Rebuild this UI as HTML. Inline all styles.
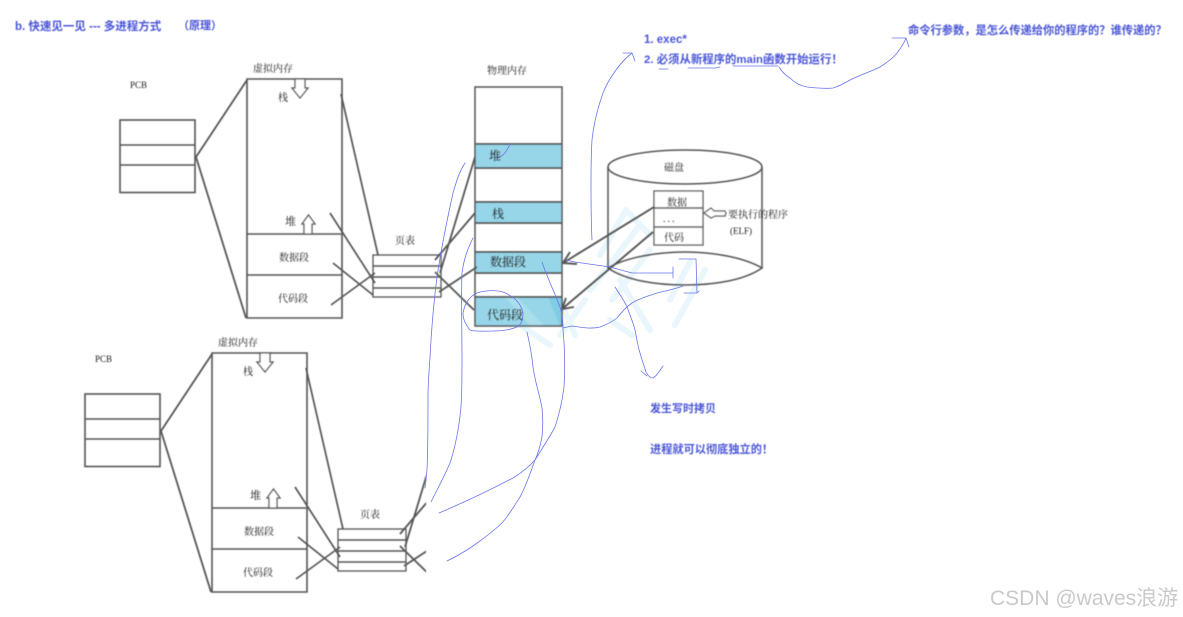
<!DOCTYPE html>
<html><head><meta charset="utf-8">
<style>
html,body{margin:0;padding:0;background:#fff;width:1183px;height:617px;overflow:hidden}
svg{display:block;position:absolute;left:0;top:0}
.s{font-family:"Liberation Serif","Noto Serif CJK SC",serif;fill:#222}
.b{font-family:"Liberation Sans","Noto Sans CJK SC",sans-serif;font-weight:700;fill:#4a55d6}
</style></head>
<body>
<svg width="1183" height="617" viewBox="0 0 1183 617" xmlns="http://www.w3.org/2000/svg">
<defs>
<filter id="f" x="-5%" y="-5%" width="110%" height="110%"><feGaussianBlur stdDeviation="0.5"/></filter>
<clipPath id="cl"><rect x="0" y="330" width="426" height="287"/></clipPath>
</defs>

<!-- faint watermark -->
<g fill="none" stroke="#e9f7fc" stroke-width="6" stroke-linecap="round">
<path d="M625 212L600 255M640 225L590 290M650 250L612 300M620 280L650 330M585 300L560 335M690 262L670 300M705 270L675 325M520 325L550 345M560 300L575 335M610 320L632 335M626 210L650 235"/>
</g>

<g filter="url(#f)">
<!-- fills -->
<rect x="475" y="144" width="87" height="24" fill="#96d6e8"/>
<rect x="475" y="202" width="87" height="21" fill="#96d6e8"/>
<rect x="475" y="252" width="87" height="21" fill="#96d6e8"/>
<rect x="475" y="297" width="87" height="29" fill="#96d6e8"/>
<path d="M505 297L530 326H544L517 297Z" fill="#a9deec"/>
<path d="M548 297L560 326H562V297Z" fill="#7fcde4"/>

<g fill="none" stroke="#555" stroke-width="1.6">
<!-- top group -->
<rect x="120" y="120" width="75" height="72.500"/>
<path d="M120 145H195M120 165H195"/>
<path d="M196 157L247 80M196 157L246 318" stroke-width="1.800"/>
<path d="M247 79H342V318H247ZM247 234H341M247 275H342"/>
<rect x="373" y="255" width="68" height="42" stroke-width="1.300"/>
<path d="M373 266H441M373 277H441M373 288H441"/>
<path d="M341 94L378 255M330 213L375 283M333 263L373 295M331 305L375 273" stroke-width="1.700"/>
<path d="M435 260L475 213M440 273L475 157M439 292L477 267M435 272L474 310" stroke-width="1.800"/>

<!-- physical -->
<path d="M475 87H562V326H475Z" stroke-width="1.500"/>
<path d="M475 144H562M475 168H562M475 202H562M475 223H562M475 252H562M475 273H562M475 297H562" stroke-width="1.800"/>

<!-- disk -->
<path d="M608 167V268M762 167V268" stroke-width="1.700" stroke="#666"/>
<ellipse cx="685" cy="167" rx="77" ry="17" stroke-width="1.500"/>
<path d="M608 268C625 258 655 252 685 252C715 252 745 258 762 268C745 280 715 285 685 285C655 285 625 280 608 268Z" stroke-width="1.500"/>
<rect x="654" y="191" width="49" height="54" fill="#fff" stroke-width="1.300"/>
<path d="M654 208H703M654 227H703"/>
<path d="M654 207L563 263M570 252L563 263L577 264M653 232L562 309M566 298L562 309L574 307" stroke-width="1.900"/>
<path d="M725 211H714L711 208L704 213L711 218L715 216H725L726 213Z" fill="#fff" stroke-width="1.200"/>

<!-- arrows virtual 1 -->
<path d="M295 79H305V88H308L300 98L292 88H295Z" fill="#fff" stroke-width="1.300"/>
<path d="M304 234V224H302L308.500 215L315 224H312V234Z" fill="#fff" stroke-width="1.300"/>

<!-- bottom group -->
<rect x="85" y="394" width="75" height="72.500"/>
<path d="M85 419H160M85 439H160"/>
<path d="M161 431L212 354M161 431L211 592" stroke-width="1.800"/>
<path d="M212 353H307V592H212ZM212 508H306M212 549H307"/>
<rect x="338" y="529" width="68" height="42" stroke-width="1.300"/>
<path d="M338 540H406M338 551H406M338 562H406"/>
<path d="M306 368L343 529M295 487L340 557M298 537L338 569M296 579L340 547" stroke-width="1.700"/>
<path d="M260 353H270V362H273L265 372L257 362H260Z" fill="#fff" stroke-width="1.300"/>
<path d="M269 508V498H267L273.500 489L280 498H277V508Z" fill="#fff" stroke-width="1.300"/>
<g clip-path="url(#cl)">
<path d="M400 534L440 487M405 547L440 431M404 566L442 541M400 546L439 584" stroke-width="1.800"/>
</g>
</g>
</g>

<!-- blue hand-drawn curves -->
<g fill="none" stroke="#6a75ea" stroke-width="0.800" stroke-linecap="round" stroke-linejoin="round">
<path d="M592 240C591 220 591 200 591 187C591 170 591 155 592 140C594 122 598 107 603 93C608 80 620 62 632 53M623 53L632 53L635 61"/>
<path d="M659 69H668M688 68H715L720 67M733 66H778"/>
<path d="M779 67C782 72 785 75 790 78C795 83 801 86 807 87C816 88 825 89 833 88C840 86 845 83 850 80C860 75 870 72 880 67C888 62 893 58 897 53C901 48 904 43 906 38M892 38L906 38L909 47"/>
<path d="M566 260L575 262L610 267L632 273H673M673 267V278"/>
<path d="M679 259H696L697 293H684M697 293L699 291"/>
<path d="M563 328L572 326C585 328 592 329 600 327C608 324 612 322 617 318C622 312 626 307 632 303C640 298 648 296 657 293C665 291 675 289 683 286"/>
<path d="M615 287C620 295 624 300 627 307C630 315 633 322 635 330C637 340 638 347 640 353C642 360 644 366 646 372C648 376 650 378 653 378C657 376 660 370 663 366M641 371L647 376"/>
<path d="M527 332C530 345 532 356 533 367C535 382 540 396 542 408C543 418 543 428 542 437C540 447 538 454 535 460C528 468 521 473 513 478C490 490 465 502 439 513"/>
<path d="M542 262C548 280 556 295 561 310C563 320 563 326 563 330C565 350 565 370 564 387C562 403 559 415 555 427C549 438 542 449 535 460C530 474 526 486 520 497C513 508 507 518 500 525C487 536 470 550 447 561"/>
<path d="M465 163C459 172 456 183 453 193C447 220 441 250 437 277C434 300 432 320 430 357C429 372 428 385 428 395C428 420 428 450 427 470L425 488"/>
<path d="M473 238C468 248 464 258 462 273C461 295 462 330 462 360C462 375 462 392 461 407C459 428 455 448 450 463C444 477 437 490 431 502"/>
<path d="M463 313C465 303 470 296 477 293C486 290 496 290 503 292C513 296 521 303 523 313C523 320 521 325 517 327C510 330 502 331 493 331C485 331 476 332 470 330C466 325 463 320 463 313Z"/>
<path d="M510 144C507 151 504 155 500 157L495 158"/>
</g>

<g filter="url(#f)">
<!-- labels -->
<g class="s" font-size="10">
<text x="130" y="88" font-size="9">PCB</text>
<text x="253" y="72">虚拟内存</text>
<text x="278" y="101">栈</text>
<text x="285" y="225" font-size="11">堆</text>
<text x="279" y="261">数据段</text>
<text x="278" y="302">代码段</text>
<text x="395" y="244">页表</text>
<text x="95" y="362" font-size="9">PCB</text>
<text x="218" y="346">虚拟内存</text>
<text x="243" y="375">栈</text>
<text x="250" y="499" font-size="11">堆</text>
<text x="244" y="535">数据段</text>
<text x="243" y="576">代码段</text>
<text x="360" y="518">页表</text>
<text x="487" y="74">物理内存</text>
<text x="489" y="160" font-size="12">堆</text>
<text x="492" y="218" font-size="12">栈</text>
<text x="490" y="266" font-size="12">数据段</text>
<text x="487" y="319" font-size="12">代码段</text>
<text x="664" y="171">磁盘</text>
<text x="667" y="206">数据</text>
<text x="663" y="222" letter-spacing="2">...</text>
<text x="664" y="241">代码</text>
<text x="728" y="218">要执行的程序</text>
<text x="730" y="234" font-size="9">(ELF)</text>
</g>
<g class="b">
<text x="15" y="30" font-size="11.500">b. 快速见一见 --- 多进程方式</text>
<text x="178" y="29" font-size="11">（原理）</text>
<text x="644" y="43" font-size="11.500">1. exec*</text>
<text x="644" y="63" font-size="11.400">2. 必须从新程序的main函数开始运行！</text>
<text x="908" y="34" font-size="11.250">命令行参数，是怎么传递给你的程序的？谁传递的？</text>
<text x="650" y="412" font-size="11">发生写时拷贝</text>
<text x="650" y="453" font-size="11.200">进程就可以彻底独立的！</text>
</g>
</g>
<text x="990" y="605" font-family="'Liberation Sans','Noto Sans CJK SC',sans-serif" font-size="21" fill="#c9c9c9">CSDN @waves浪游</text>
</svg>
</body></html>
